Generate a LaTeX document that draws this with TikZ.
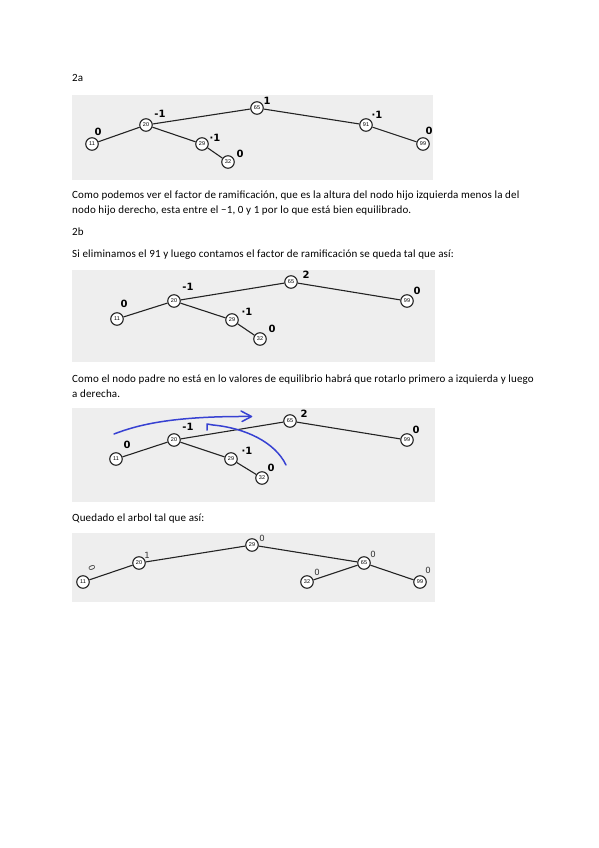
\documentclass[tikz,border=0pt]{standalone}
\usepackage{fontspec}
\setmainfont{Carlito}[LetterSpace=1.5]
\newfontfamily\handfont{DejaVu Sans}
\newfontfamily\nodefont{Liberation Sans}
\usetikzlibrary{arrows.meta}
\definecolor{panelgray}{RGB}{238,238,238}
\definecolor{handblue}{RGB}{55,65,210}
\definecolor{edgecol}{RGB}{35,35,35}
\tikzset{
  tn/.style={circle,draw=edgecol,line width=1.1pt,fill=white,minimum size=12.5pt,inner sep=0pt,font=\nodefont\fontsize{5.5}{6}\selectfont},
  edge/.style={draw=edgecol,line width=1.1pt},
  lab/.style={font=\handfont\bfseries\fontsize{10}{11}\selectfont,inner sep=0pt},
  slab/.style={font=\handfont\fontsize{8.5}{9}\selectfont,inner sep=0pt,text=black!80},
  bodytext/.style={anchor=base west,inner sep=0pt,font=\fontsize{11}{13}\selectfont},
  panel/.style={fill=panelgray,draw=none},
  blueink/.style={draw=handblue,line width=1.5pt,line cap=round,line join=round}
}
\begin{document}
\begin{tikzpicture}[x=1pt,y=-1pt]
\useasboundingbox (0,0) rectangle (599,848);
% ---------- 2a ----------
\node[bodytext] (t2a) at (72,82) {2a};
\fill[panel] (72,95) rectangle (433,180);
\node[tn] (a65) at (257,108) {65};
\node[tn] (a20) at (146,125) {20};
\node[tn] (a91) at (366,125) {91};
\node[tn] (a11) at (92,144) {11};
\node[tn] (a29) at (202,144) {29};
\node[tn] (a32) at (228,162) {32};
\node[tn] (a99) at (423,144) {99};
\draw[edge] (a65) -- (a20);
\draw[edge] (a65) -- (a91);
\draw[edge] (a20) -- (a11);
\draw[edge] (a20) -- (a29);
\draw[edge] (a29) -- (a32);
\draw[edge] (a91) -- (a99);
\node[lab] (la65) at (267,101) {1};
\node[lab] (la20) at (160,114) {-1};
\node[lab] (la11) at (98,132) {0};
\node[lab] (la29) at (215,138) {·1};
\node[lab] (la32) at (240,154) {0};
\node[lab] (la91) at (377,115) {·1};
\node[lab] (la99) at (429,131) {0};
\node[bodytext] (p1) at (72,198) {Como podemos ver el factor de ramificación, que es la altura del nodo hijo izquierda menos la del};
\node[bodytext] (p2) at (72,213) {nodo hijo derecho, esta entre el −1, 0 y 1 por lo que está bien equilibrado.};
% ---------- 2b ----------
\node[bodytext] (t2b) at (72,235) {2b};
\node[bodytext] (p3) at (72,257) {Si eliminamos el 91 y luego contamos el factor de ramificación se queda tal que así:};
\fill[panel] (72,270) rectangle (435,362);
\node[tn] (b65) at (291,282) {65};
\node[tn] (b20) at (174,301) {20};
\node[tn] (b11) at (117,319) {11};
\node[tn] (b29) at (232,320) {29};
\node[tn] (b32) at (260,339) {32};
\node[tn] (b99) at (407,301) {99};
\draw[edge] (b65) -- (b20);
\draw[edge] (b65) -- (b99);
\draw[edge] (b20) -- (b11);
\draw[edge] (b20) -- (b29);
\draw[edge] (b29) -- (b32);
\node[lab] (lb65) at (306,275) {2};
\node[lab] (lb20) at (188,287) {-1};
\node[lab] (lb11) at (124,304) {0};
\node[lab] (lb29) at (247,312) {·1};
\node[lab] (lb32) at (272,329) {0};
\node[lab] (lb99) at (417,291) {0};
\node[bodytext] (p4) at (72,382) {Como el nodo padre no está en lo valores de equilibrio habrá que rotarlo primero a izquierda y luego};
\node[bodytext] (p5) at (72,397) {a derecha.};
% ---------- rotation panel ----------
\fill[panel] (72,408) rectangle (435,502);
\node[tn] (c65) at (290,421) {65};
\node[tn] (c20) at (174,440) {20};
\node[tn] (c11) at (116,459) {11};
\node[tn] (c29) at (231,459) {29};
\node[tn] (c32) at (262,478) {32};
\node[tn] (c99) at (407,440) {99};
\draw[edge] (c65) -- (c20);
\draw[edge] (c65) -- (c99);
\draw[edge] (c20) -- (c11);
\draw[edge] (c20) -- (c29);
\draw[edge] (c29) -- (c32);
\node[lab] (lc65) at (304,414) {2};
\node[lab] (lc20) at (188,427) {-1};
\node[lab] (lc11) at (127,445) {0};
\node[lab] (lc29) at (247,451) {·1};
\node[lab] (lc32) at (271,468) {0};
\node[lab] (lc99) at (416,430) {0};
\coordinate (u1) at (114,434);
\coordinate (u2) at (251,416.5);
\draw[blueink] (u1) .. controls (140,424) and (175,416) .. (u2);
\draw[blueink] (241,411) -- (251.5,416.5) -- (242,421.5);
\coordinate (v1) at (286,465);
\coordinate (v2) at (213,425);
\draw[blueink] (v1) .. controls (275,442) and (245,428) .. (v2) -- (207,424) -- (207,430);
% ---------- result ----------
\node[bodytext] (p6) at (72,521) {Quedado el arbol tal que así:};
\fill[panel] (72,533) rectangle (435,602);
\node[tn] (d29) at (252,545) {29};
\node[tn] (d20) at (139,563) {20};
\node[tn] (d11) at (83,582) {11};
\node[tn] (d65) at (364,563) {65};
\node[tn] (d32) at (307,582) {32};
\node[tn] (d99) at (420,582) {99};
\draw[edge] (d29) -- (d20);
\draw[edge] (d29) -- (d65);
\draw[edge] (d20) -- (d11);
\draw[edge] (d65) -- (d32);
\draw[edge] (d65) -- (d99);
\node[slab] (ld29) at (262,538) {0};
\node[slab] (ld20) at (147,555) {1};
\node[slab,rotate=-70] (ld11) at (92,568) {0};
\node[slab] (ld65) at (373,554) {0};
\node[slab] (ld32) at (317,572) {0};
\node[slab] (ld99) at (428,570) {0};
\end{tikzpicture}
\end{document}
